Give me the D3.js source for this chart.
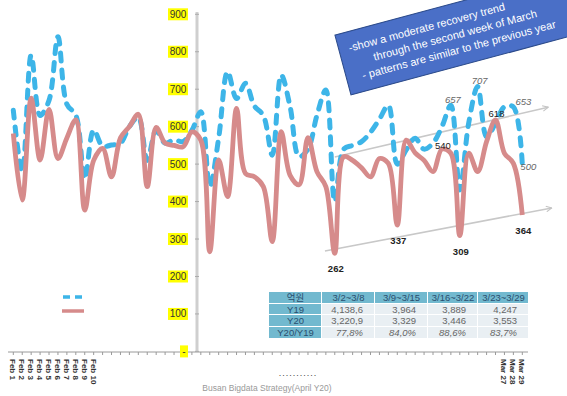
<!DOCTYPE html>
<html>
<head>
<meta charset="utf-8">
<script src="https://cdn.jsdelivr.net/npm/d3@7"></script>
<style>
  body { margin: 0; background: #fff; }
  svg { display: block; font-family: "Liberation Sans", Arial, sans-serif; }
</style>
</head>
<body>
<div id="chart"></div>
<script>
// daily values Feb 1 .. Mar 29
var y19 = [644, 480, 791, 630, 670, 840, 660, 631, 460, 591,
           548, 551, 556, 600, 625, 510, 590, 556, 565, 560,
           590, 640, 440, 570, 747, 675, 716, 655, 630, 524,
           738, 653, 520, 540, 630, 698, 400, 540, 550, 560,
           585, 620, 657, 500, 538, 569, 540, 556, 600, 657,
           431, 610, 707, 573, 609, 653, 653, 500];
var y20 = [582, 404, 676, 511, 646, 515, 570, 618, 377, 510,
           542, 466, 570, 600, 633, 440, 598, 556, 550, 546,
           586, 564, 266, 511, 413, 649, 475, 466, 440, 293,
           587, 470, 445, 571, 480, 440, 262, 520, 510, 490,
           466, 515, 502, 337, 564, 530, 510, 480, 540, 529,
           309, 529, 480, 560, 618, 529, 502, 364];

var yTicks = [100, 200, 300, 400, 500, 600, 700, 800, 900];
var febLabels = ["Feb 1", "Feb 2", "Feb 3", "Feb 4", "Feb 5", "Feb 6", "Feb 7", "Feb 8", "Feb 9", "Feb 10"];
var marLabels = ["Mar 27", "Mar 28", "Mar 29"];

// labelled points (index into series)
var y20Low = [36, 43, 50, 57];
var y20High = [48, 54];
var y19Marks = [49, 52, 56, 57];

// trend arrows [index, value]
var upperTrend = [[36, 519], [59.9, 652]];
var lowerTrend = [[34.9, 268], [60.3, 383]];

var tableHead = ["억원", "3/2~3/8", "3/9~3/15", "3/16~3/22", "3/23~3/29"];
var tableRows = [
  ["Y19", "4,138,6", "3,964", "3,889", "4,247"],
  ["Y20", "3,220,9", "3,329", "3,446", "3,553"],
  ["Y20/Y19", "77,8%", "84,0%", "88,6%", "83,7%"]
];

var noteLines = ["-show a moderate recovery trend",
                 "through the second week of March",
                 "- patterns are similar to the previous year"];

var width = 567, height = 396;

var svg = d3.select("#chart").append("svg")
  .attr("width", width)
  .attr("height", height);

var x = d3.scaleLinear().domain([0, 57]).range([13.3, 522.3]);
var y = d3.scaleLinear().domain([0, 900]).range([351.4, 14.3]);

// x axis line + ticks
svg.append("line")
  .attr("x1", 8).attr("x2", 528)
  .attr("y1", 352).attr("y2", 352)
  .attr("stroke", "#9a9a9a").attr("stroke-width", 1);
svg.selectAll(".xt")
  .data(d3.range(0, 58))
  .enter().append("line")
  .attr("x1", function(d) { return x(d); })
  .attr("x2", function(d) { return x(d); })
  .attr("y1", 352).attr("y2", 355)
  .attr("stroke", "#9a9a9a");

// x labels, rotated
var xl = febLabels.map(function(t, i) { return {t: t, i: i}; })
  .concat(marLabels.map(function(t, i) { return {t: t, i: 55 + i}; }));
svg.selectAll(".xl")
  .data(xl)
  .enter().append("text")
  .attr("transform", function(d) { return "translate(" + (x(d.i) - 3) + ",359) rotate(90)"; })
  .attr("font-size", 8)
  .attr("font-weight", "bold")
  .attr("fill", "#333")
  .text(function(d) { return d.t; });

// y axis
svg.append("line")
  .attr("x1", 197).attr("x2", 197)
  .attr("y1", 12).attr("y2", 352)
  .attr("stroke", "#cfcfcf").attr("stroke-width", 3);

var yg = svg.selectAll(".yt")
  .data([0].concat(yTicks))
  .enter().append("g")
  .attr("transform", function(d) { return "translate(0," + y(d) + ")"; });
yg.append("line")
  .attr("x1", 195).attr("x2", 199)
  .attr("stroke", "#aaa");
yg.append("rect")
  .attr("x", function(d) { return d === 0 ? 180 : 168; })
  .attr("y", -6)
  .attr("width", function(d) { return d === 0 ? 8 : 20; })
  .attr("height", 12)
  .attr("fill", "#ffff00");
yg.append("text")
  .attr("x", function(d) { return d === 0 ? 184 : 178; })
  .attr("y", 3.5)
  .attr("text-anchor", "middle")
  .attr("font-size", 10)
  .attr("fill", "#333")
  .text(function(d) { return d === 0 ? "-" : d; });

// trend arrows
svg.append("defs").append("marker")
  .attr("id", "arr")
  .attr("viewBox", "0 0 10 10")
  .attr("refX", 9).attr("refY", 5)
  .attr("markerWidth", 7).attr("markerHeight", 7)
  .attr("markerUnits", "userSpaceOnUse")
  .attr("orient", "auto")
  .append("path")
  .attr("d", "M1,1 L9,5 L1,9")
  .attr("fill", "none")
  .attr("stroke", "#c4c4c4")
  .attr("stroke-width", 1.5);

[upperTrend, lowerTrend].forEach(function(tr) {
  svg.append("line")
    .attr("x1", x(tr[0][0])).attr("y1", y(tr[0][1]))
    .attr("x2", x(tr[1][0])).attr("y2", y(tr[1][1]))
    .attr("stroke", "#c8c8c8").attr("stroke-width", 1.5)
    .attr("marker-end", "url(#arr)");
});

// lines
var line = d3.line()
  .x(function(d, i) { return x(i); })
  .y(function(d) { return y(d); })
  .curve(d3.curveCatmullRom.alpha(0.5));

svg.append("path")
  .datum(y19)
  .attr("d", line)
  .attr("fill", "none")
  .attr("stroke", "#3db5e8")
  .attr("stroke-width", 5)
  .attr("stroke-linecap", "round")
  .attr("stroke-dasharray", "8 9");

svg.append("path")
  .datum(y20)
  .attr("d", line)
  .attr("fill", "none")
  .attr("stroke", "#d68b8b")
  .attr("stroke-width", 4.8)
  .attr("stroke-linejoin", "round");

// point labels
svg.selectAll(".lowl")
  .data(y20Low)
  .enter().append("text")
  .attr("x", function(d) { return x(d) + 1; })
  .attr("y", function(d) { return y(y20[d]) + 19; })
  .attr("text-anchor", "middle")
  .attr("font-size", 9.5)
  .attr("font-weight", "bold")
  .attr("fill", "#222")
  .text(function(d) { return y20[d]; });

svg.selectAll(".highl")
  .data(y20High)
  .enter().append("text")
  .attr("x", function(d) { return x(d) + 1; })
  .attr("y", function(d, i) { return y(y20[d]) + (i === 0 ? 0 : -3); })
  .attr("text-anchor", "middle")
  .attr("font-size", 9.5)
  .attr("fill", "#222")
  .text(function(d) { return y20[d]; });

var y19dx = [2, 2, 10, 6], y19dy = [-2, -3, -2, 6];
svg.selectAll(".y19l")
  .data(y19Marks)
  .enter().append("text")
  .attr("x", function(d, i) { return x(d) + y19dx[i]; })
  .attr("y", function(d, i) { return y(y19[d]) + y19dy[i]; })
  .attr("text-anchor", "middle")
  .attr("font-size", 9.5)
  .attr("font-style", "italic")
  .attr("fill", "#666")
  .text(function(d) { return y19[d]; });

// legend (no text)
svg.append("line")
  .attr("x1", 63).attr("x2", 82).attr("y1", 297).attr("y2", 297)
  .attr("stroke", "#3db5e8").attr("stroke-width", 3.5)
  .attr("stroke-dasharray", "7 5");
svg.append("line")
  .attr("x1", 62).attr("x2", 84).attr("y1", 311).attr("y2", 311)
  .attr("stroke", "#d68b8b").attr("stroke-width", 3.5);

// table
var colX = [269, 322, 375, 428, 478, 529];
var rowY = [292, 304, 315, 327, 339];
var tbl = svg.append("g").attr("font-size", 9.5);
tableHead.forEach(function(h, c) {
  tbl.append("rect")
    .attr("x", colX[c]).attr("y", rowY[0])
    .attr("width", colX[c + 1] - colX[c] - 1).attr("height", rowY[1] - rowY[0] - 1)
    .attr("fill", "#72b9cf");
  tbl.append("text")
    .attr("x", (colX[c] + colX[c + 1]) / 2).attr("y", rowY[0] + 9)
    .attr("text-anchor", "middle")
    .attr("fill", "#2a4e6e")
    .attr("font-family", c === 0 ? "'Noto Sans CJK KR', sans-serif" : null)
    .text(h);
});
tableRows.forEach(function(row, r) {
  row.forEach(function(v, c) {
    tbl.append("rect")
      .attr("x", colX[c]).attr("y", rowY[r + 1])
      .attr("width", colX[c + 1] - colX[c] - 1).attr("height", rowY[r + 2] - rowY[r + 1] - 1)
      .attr("fill", c === 0 ? "#72b9cf" : "#e9eff3");
    tbl.append("text")
      .attr("x", c === 0 ? (colX[c] + colX[c + 1]) / 2 : colX[c + 1] - 12)
      .attr("y", rowY[r + 1] + 9)
      .attr("text-anchor", c === 0 ? "middle" : "end")
      .attr("font-style", r === 2 && c > 0 ? "italic" : null)
      .attr("fill", c === 0 ? "#2a4e6e" : "#666")
      .text(v);
  });
});

// note box
var note = svg.append("g")
  .attr("transform", "translate(455,35) rotate(-15)");
note.append("rect")
  .attr("x", -116).attr("y", -31)
  .attr("width", 236).attr("height", 62)
  .attr("fill", "#4a6fc7")
  .attr("stroke", "#2b4a8a").attr("stroke-width", 1);
note.selectAll("text")
  .data(noteLines)
  .enter().append("text")
  .attr("x", function(d, i) { return i === 0 ? -106 : 0; })
  .attr("y", function(d, i) { return -11 + i * 15; })
  .attr("text-anchor", function(d, i) { return i === 0 ? "start" : "middle"; })
  .attr("font-size", 11)
  .attr("fill", "#fff")
  .text(function(d) { return d; });

// source
svg.append("text")
  .attr("x", 298).attr("y", 376)
  .attr("text-anchor", "middle")
  .attr("font-size", 9)
  .attr("letter-spacing", 1)
  .attr("fill", "#444")
  .text("...........");
svg.append("text")
  .attr("x", 267).attr("y", 391)
  .attr("text-anchor", "middle")
  .attr("font-size", 8.5)
  .attr("fill", "#999")
  .text("Busan Bigdata Strategy(April Y20)");
</script>
</body>
</html>
